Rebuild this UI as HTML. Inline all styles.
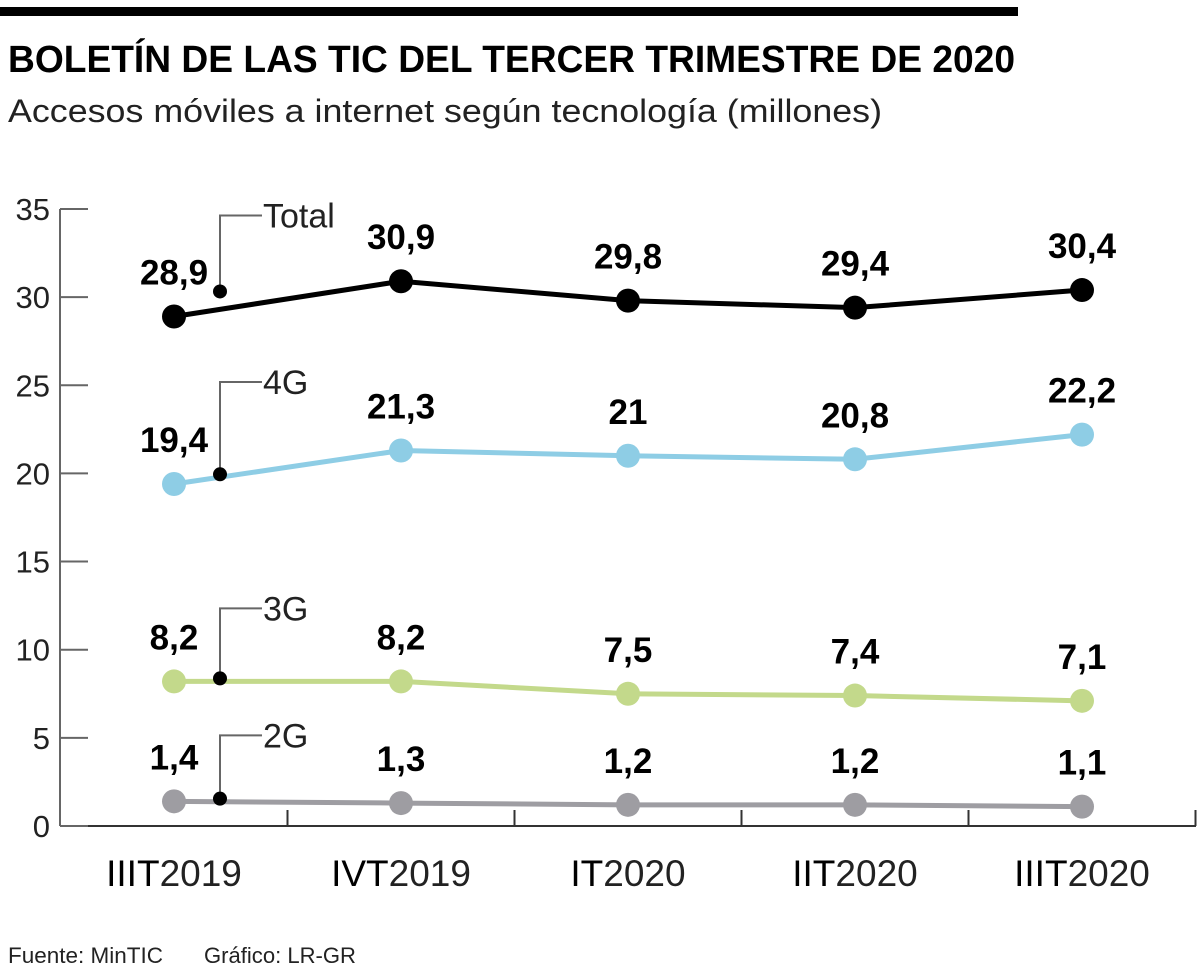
<!DOCTYPE html>
<html><head><meta charset="utf-8"><style>
html,body{margin:0;padding:0;background:#fff;}
svg text{font-family:"Liberation Sans",sans-serif;}
</style></head><body>
<svg width="1200" height="972" viewBox="0 0 1200 972" xmlns="http://www.w3.org/2000/svg">
<rect x="0" y="7" width="1018" height="9" fill="#000"/>
<text x="8" y="72" font-size="38" font-weight="bold" textLength="1007" lengthAdjust="spacingAndGlyphs">BOLETÍN DE LAS TIC DEL TERCER TRIMESTRE DE 2020</text>
<text x="8" y="122" font-size="32" fill="#222" textLength="874" lengthAdjust="spacingAndGlyphs">Accesos móviles a internet según tecnología (millones)</text>
<g id="axes"></g>
<g id="marks"></g>
<text x="8" y="963" font-size="22" fill="#222" textLength="155" lengthAdjust="spacingAndGlyphs">Fuente: MinTIC</text>
<text x="204" y="963" font-size="22" fill="#222" textLength="152" lengthAdjust="spacingAndGlyphs">Gráfico: LR-GR</text>
</svg>
<script>
const categories=["IIIT|2019","IVT|2019","IT|2020","IIT|2020","IIIT|2020"];
const totalValues=[28.9,30.9,29.8,29.4,30.4];
const g4Values=[19.4,21.3,21,20.8,22.2];
const g3Values=[8.2,8.2,7.5,7.4,7.1];
const g2Values=[1.4,1.3,1.2,1.2,1.1];
const yTicks=[0,5,10,15,20,25,30,35];
const seriesNames=["Total","4G","3G","2G"];

const NS="http://www.w3.org/2000/svg";
const X0=60,X1=1196,Y0=826,PX=17.63;
const leaderOffsets=[101,102,73,66];
function yScale(v){return Y0-v*PX;}
function xScale(i){return 174+i*227;}
function el(tag,attrs,parent,txt){const e=document.createElementNS(NS,tag);for(const k in attrs)e.setAttribute(k,attrs[k]);if(txt!=null)e.textContent=txt;parent.appendChild(e);return e;}
const axes=document.getElementById('axes'),marks=document.getElementById('marks');
let a=el('line',{x1:X0,y1:yScale(35),x2:X0,y2:Y0,stroke:'#666','stroke-width':2},axes);

a=el('line',{x1:X0,y1:Y0,x2:X1,y2:Y0,stroke:'#333','stroke-width':2},axes);

yTicks.forEach(t=>{
  const l=el('line',{x1:X0,y1:yScale(t),x2:88,y2:yScale(t),stroke:'#666','stroke-width':2},axes);
  
  const tx=el('text',{x:50,y:yScale(t)+11,'font-size':31,'text-anchor':'end',fill:'#222'},axes,String(t));
  
});
for(let i=0;i<categories.length;i++){
  const xt=xScale(i)+113.5;
  const l=el('line',{x1:xt,y1:Y0,x2:xt,y2:Y0-16,stroke:'#333','stroke-width':2},axes);
  
  const p=categories[i].split('|');
  const tx=el('text',{x:xScale(i),y:886,'font-size':37,'text-anchor':'middle',fill:'#111'},axes);
  
  el('tspan',{fill:'#000'},tx,p[0]);el('tspan',{fill:'#222'},tx,p[1]);
}
const series=[[totalValues,'#000','total'],[g4Values,'#8ecde5','4g'],[g3Values,'#c3d98b','3g'],[g2Values,'#9e9da2','2g']];
series.forEach((s,si)=>{
  const vals=s[0];
  const pts=vals.map((v,i)=>xScale(i)+','+yScale(v)).join(' ');
  const pl=el('polyline',{points:pts,fill:'none',stroke:s[1],'stroke-width':5},marks);
  
  vals.forEach((v,i)=>{
    const c=el('circle',{cx:xScale(i),cy:yScale(v),r:12,fill:s[1]},marks);
    
    const t=el('text',{x:xScale(i),y:yScale(v)-32,'font-size':35,'font-weight':'bold','text-anchor':'middle'},marks,String(v).replace('.',','));
    
  });
  const dx=220, dv=vals[0]+(vals[1]-vals[0])*0.2;
  const dy=yScale(dv)-(si===0?18:3);
  const ly=yScale(vals[0])-leaderOffsets[si];
  const ld=el('polyline',{points:`${dx},${dy} ${dx},${ly} 262,${ly}`,fill:'none',stroke:'#666','stroke-width':2},marks);
  
  const d=el('circle',{cx:dx,cy:dy,r:7,fill:'#000'},marks);
  
  const lt=el('text',{x:263,y:ly+12,'font-size':34,fill:'#222'},marks,seriesNames[si]);
  
});
</script>
</body></html>
